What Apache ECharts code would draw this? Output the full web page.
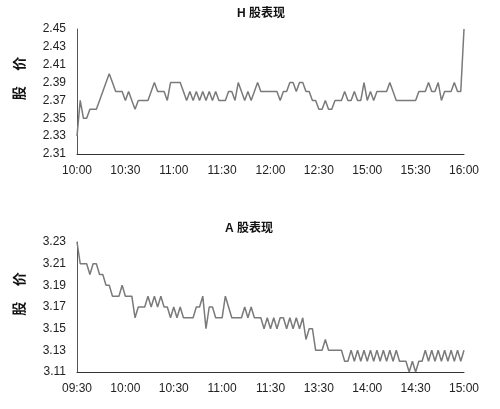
<!DOCTYPE html>
<html>
<head>
<meta charset="utf-8">
<script src="https://cdn.jsdelivr.net/npm/echarts@6/dist/echarts.min.js"></script>
<style>html,body{margin:0;padding:0;background:#fff}#c{width:500px;height:409px}</style>
</head>
<body>
<div id="c"></div>
<script>
var hTitle = 'H 股表现';
var aTitle = 'A 股表现';
var yName = '股    价';
var hTickLabels = ['10:00','10:30','11:00','11:30','12:00','12:30','15:00','15:30','16:00'];
var aTickLabels = ['09:30','10:00','10:30','11:00','11:30','13:30','14:00','14:30','15:00'];
var hValues = [
  2.33,2.37,2.35,2.35,2.36,2.36,2.36,2.37,2.38,2.39,2.40,2.39,2.38,2.38,2.38,
  2.37,2.38,2.37,2.36,2.37,2.37,2.37,2.37,2.38,2.39,2.38,2.38,2.38,2.37,2.39,
  2.39,2.39,2.39,2.38,2.37,2.38,2.37,2.38,2.37,2.38,2.37,2.38,2.37,2.38,2.37,
  2.37,2.37,2.38,2.38,2.37,2.39,2.38,2.37,2.38,2.37,2.38,2.39,2.38,2.38,2.38,
  2.38,2.38,2.38,2.37,2.38,2.38,2.39,2.39,2.38,2.39,2.39,2.38,2.38,2.37,2.37,
  2.36,2.36,2.37,2.36,2.36,2.37,2.37,2.37,2.38,2.37,2.37,2.38,2.37,2.37,2.39,
  2.37,2.38,2.37,2.38,2.38,2.38,2.38,2.39,2.38,2.37,2.37,2.37,2.37,2.37,2.37,
  2.37,2.38,2.38,2.38,2.39,2.38,2.38,2.39,2.37,2.38,2.38,2.38,2.39,2.38,2.38,
  2.45
];
var aValues = [
  3.23,3.21,3.21,3.21,3.20,3.21,3.21,3.20,3.20,3.19,3.19,3.18,3.18,3.18,3.19,
  3.18,3.18,3.18,3.16,3.17,3.17,3.17,3.18,3.17,3.18,3.17,3.18,3.17,3.17,3.16,
  3.17,3.16,3.17,3.16,3.16,3.16,3.16,3.17,3.17,3.18,3.15,3.17,3.17,3.16,3.16,
  3.16,3.18,3.17,3.16,3.16,3.16,3.16,3.17,3.16,3.17,3.16,3.16,3.16,3.15,3.16,
  3.15,3.16,3.15,3.16,3.16,3.15,3.16,3.15,3.16,3.15,3.16,3.14,3.15,3.15,3.13,
  3.13,3.13,3.14,3.13,3.13,3.13,3.13,3.13,3.12,3.12,3.13,3.12,3.13,3.12,3.13,
  3.12,3.13,3.12,3.13,3.12,3.13,3.12,3.13,3.12,3.13,3.12,3.12,3.12,3.11,3.12,
  3.11,3.12,3.12,3.13,3.12,3.13,3.12,3.13,3.12,3.13,3.12,3.13,3.12,3.13,3.12,
  3.13
];
var perTick = 15;

var FONT = '"Liberation Sans", Arial, "Noto Sans CJK SC", sans-serif';
function cats(n){ var a=[]; for(var i=0;i<n;i++) a.push(String(i)); return a; }
function xAxis(gi, labels, n){
  return {
    type:'category', gridIndex:gi, data:cats(n), boundaryGap:false,
    axisLine:{show:true, lineStyle:{color:'#333', width:1}},
    axisTick:{show:false},
    splitLine:{show:false},
    axisLabel:{interval:perTick-1, margin:11, color:'#222', fontSize:12, fontFamily:FONT,
      formatter:function(v, idx){ var k = idx/perTick; return (k===Math.floor(k) && labels[k]!==undefined) ? labels[k] : ''; }}
  };
}
function yAxis(gi, mn, mx){
  return {
    type:'value', gridIndex:gi, min:mn, max:mx, interval:0.02,
    axisLine:{show:true, lineStyle:{color:'#555', width:1}},
    axisTick:{show:false},
    splitLine:{show:false},
    axisLabel:{margin:11, color:'#222', fontSize:12, fontFamily:FONT,
      formatter:function(v){ return v.toFixed(2); }},
    name:yName, nameLocation:'middle', nameGap:50, nameRotate:90,
    nameTextStyle:{fontSize:14, fontWeight:'bold', color:'#111', fontFamily:FONT, padding:[0,0,0,26]}
  };
}
var chart = echarts.init(document.getElementById('c'), null, {renderer:'canvas'});
chart.setOption({
  backgroundColor:'#fff',
  animation:false,
  title:[
    {text:hTitle, left:237, top:8, textStyle:{fontSize:12, fontWeight:'bold', color:'#111', fontFamily:FONT}, padding:0},
    {text:aTitle, left:225, top:223, textStyle:{fontSize:12, fontWeight:'bold', color:'#111', fontFamily:FONT}, padding:0}
  ],
  grid:[
    {left:77, right:36, top:29, height:125},
    {left:77, right:36, top:242, height:130}
  ],
  xAxis:[xAxis(0, hTickLabels, hValues.length), xAxis(1, aTickLabels, aValues.length)],
  yAxis:[yAxis(0, 2.31, 2.45), yAxis(1, 3.11, 3.23)],
  series:[
    {type:'line', xAxisIndex:0, yAxisIndex:0, data:hValues, showSymbol:false, lineStyle:{color:'#7a7a7a', width:1.5}},
    {type:'line', xAxisIndex:1, yAxisIndex:1, data:aValues, showSymbol:false, lineStyle:{color:'#7a7a7a', width:1.5}}
  ]
});
</script>
</body>
</html>
